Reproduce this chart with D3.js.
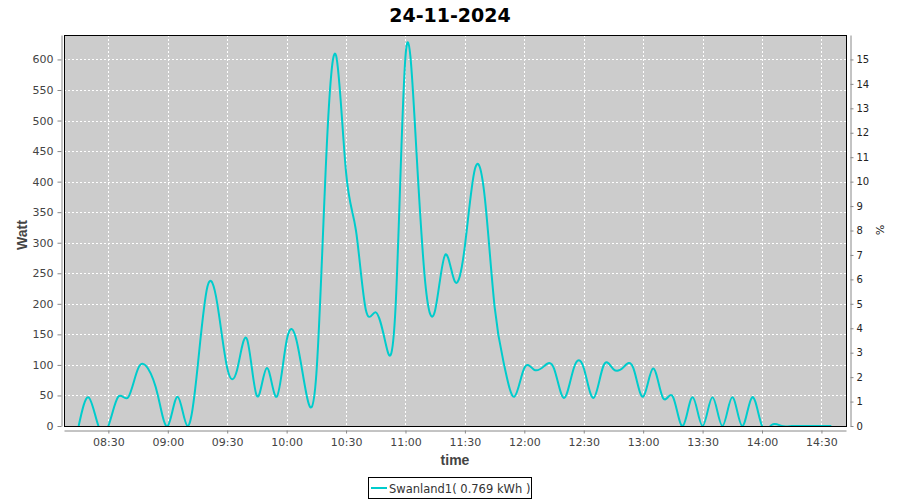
<!DOCTYPE html>
<html>
<head>
<meta charset="utf-8">
<script src="https://cdn.jsdelivr.net/npm/d3@7"></script>
<style>
  body { margin: 0; background: #fff; }
  svg { display: block; }
</style>
</head>
<body>
<script>
// ---- data ----
const chartTitle = "24-11-2024";
const seriesName = "Swanland1( 0.769 kWh )";
const times = [
  "08:15","08:20","08:25","08:30","08:35","08:40","08:45","08:50","08:55",
  "09:00","09:05","09:10","09:15","09:20","09:25","09:30","09:35","09:40","09:45","09:50","09:55",
  "10:00","10:05","10:10","10:15","10:20","10:25","10:30","10:35","10:40","10:45","10:50","10:55",
  "11:00","11:05","11:10","11:15","11:20","11:25","11:30","11:35","11:40","11:45","11:50","11:55",
  "12:00","12:05","12:10","12:15","12:20","12:25","12:30","12:35","12:40","12:45","12:50","12:55",
  "13:00","13:05","13:10","13:15","13:20","13:25","13:30","13:35","13:40","13:45","13:50","13:55",
  "14:00","14:05","14:10","14:15","14:20","14:25","14:30","14:35"
];
const watts = [
  0,47,0,0,48,47,94,94,50,
  0,48,0,95,228,200,95,92,142,49,95,48,
  140,140,52,85,440,606,415,320,190,186,135,195,
  605,480,234,190,280,236,295,420,375,195,97,48,
  95,92,98,94,46,95,95,46,99,93,96,95,
  48,94,46,48,0,47,0,47,0,47,0,47,
  0,2,0,0,0,0,0,0
];
const xTickLabels = ["08:30","09:00","09:30","10:00","10:30","11:00","11:30","12:00","12:30","13:00","13:30","14:00","14:30"];
const leftTicks = [0,50,100,150,200,250,300,350,400,450,500,550,600];
const rightTicks = [0,1,2,3,4,5,6,7,8,9,10,11,12,13,14,15];
const xDomainLabels = ["08:07:36","14:42:24"];
const leftDomain = [0, 640];
const rightDomain = [0, 16];

// ---- helpers ----
const parseT = s => {
  const p = s.split(":").map(Number);
  return new Date(2024, 10, 24, p[0], p[1], p[2] || 0);
};
const data = times.map((t, i) => ({ t: parseT(t), v: watts[i] }));

// ---- layout ----
const W = 900, H = 500;
const L = 64, R = 846, T = 35, B = 426;

const svg = d3.select("body").append("svg").attr("width", W).attr("height", H);

const x = d3.scaleTime().domain(xDomainLabels.map(parseT)).range([L, R]);
const y = d3.scaleLinear().domain(leftDomain).range([B, T]);
const y2 = d3.scaleLinear().domain(rightDomain).range([B, T]);

// title
svg.append("text").attr("x", 450).attr("y", 22).attr("text-anchor", "middle")
  .style("font-family", "DejaVu Sans").style("font-weight", "bold").style("font-size", "19px")
  .attr("fill", "#000").text(chartTitle);

// plot background
svg.append("rect").attr("x", L).attr("y", T).attr("width", R - L).attr("height", B - T).attr("fill", "#cccccc");

// grid
const grid = svg.append("g").attr("stroke", "#ffffff").attr("stroke-width", 1).attr("stroke-dasharray", "2,2");
grid.selectAll("line.v").data(xTickLabels.map(parseT)).enter().append("line")
  .attr("x1", d => Math.round(x(d)) + 0.5).attr("x2", d => Math.round(x(d)) + 0.5)
  .attr("y1", T).attr("y2", B);
grid.selectAll("line.h").data(leftTicks).enter().append("line")
  .attr("y1", d => Math.round(y(d)) + 0.5).attr("y2", d => Math.round(y(d)) + 0.5)
  .attr("x1", L).attr("x2", R);

// clip
svg.append("clipPath").attr("id", "clip").append("rect")
  .attr("x", L).attr("y", T).attr("width", R - L).attr("height", B - T);

const line = d3.line().x(d => x(d.t)).y(d => y(d.v)).curve(d3.curveNatural);
svg.append("path").datum(data).attr("clip-path", "url(#clip)")
  .attr("d", line).attr("fill", "none").attr("stroke", "#00cccc").attr("stroke-width", 2);

// border
svg.append("rect").attr("x", L + 0.5).attr("y", T + 0.5).attr("width", R - L).attr("height", B - T)
  .attr("fill", "none").attr("stroke", "#000").attr("stroke-width", 1);

// axes
const leftAxis = svg.append("g").attr("transform", "translate(61.5,0)")
  .call(d3.axisLeft(y).tickValues(leftTicks).tickSizeInner(4).tickSizeOuter(0).tickPadding(4));
leftAxis.selectAll("text").style("font-family", "DejaVu Sans").style("font-size", "11px").attr("fill", "#444");
leftAxis.selectAll("line,path").attr("stroke", "#888");

const bottomAxis = svg.append("g").attr("transform", "translate(0,430.5)")
  .call(d3.axisBottom(x).tickValues(xTickLabels.map(parseT)).tickFormat(d3.timeFormat("%H:%M"))
    .tickSizeInner(3).tickSizeOuter(0).tickPadding(5));
bottomAxis.selectAll("text").style("font-family", "DejaVu Sans").style("font-size", "11px").attr("fill", "#444");
bottomAxis.selectAll("line,path").attr("stroke", "#888");

const rightAxis = svg.append("g").attr("transform", "translate(850.5,0)")
  .call(d3.axisRight(y2).tickValues(rightTicks).tickSizeInner(3).tickSizeOuter(0).tickPadding(3));
rightAxis.selectAll("text").style("font-family", "DejaVu Sans").style("font-size", "10px").attr("fill", "#222");
rightAxis.selectAll("line,path").attr("stroke", "#888");

// axis labels
svg.append("text").attr("transform", "translate(27,235) rotate(-90)").attr("text-anchor", "middle")
  .style("font-family", "Liberation Sans").style("font-weight", "bold").style("font-size", "14px")
  .attr("fill", "#444").text("Watt");
svg.append("text").attr("x", 455).attr("y", 465).attr("text-anchor", "middle")
  .style("font-family", "Liberation Sans").style("font-weight", "bold").style("font-size", "14px")
  .attr("fill", "#444").text("time");
svg.append("text").attr("transform", "translate(876,230) rotate(90)").attr("text-anchor", "middle")
  .style("font-family", "DejaVu Sans").style("font-size", "11px")
  .attr("fill", "#222").text("%");

// legend
const lg = svg.append("g");
lg.append("rect").attr("x", 368.5).attr("y", 477.5).attr("width", 163).attr("height", 21)
  .attr("fill", "#fff").attr("stroke", "#000").attr("stroke-width", 1);
lg.append("line").attr("x1", 371).attr("x2", 387).attr("y1", 488).attr("y2", 488)
  .attr("stroke", "#00cccc").attr("stroke-width", 2);
lg.append("text").attr("x", 389).attr("y", 492.5)
  .style("font-family", "DejaVu Sans").style("font-size", "11.5px").attr("fill", "#333")
  .text(seriesName);
</script>
</body>
</html>
